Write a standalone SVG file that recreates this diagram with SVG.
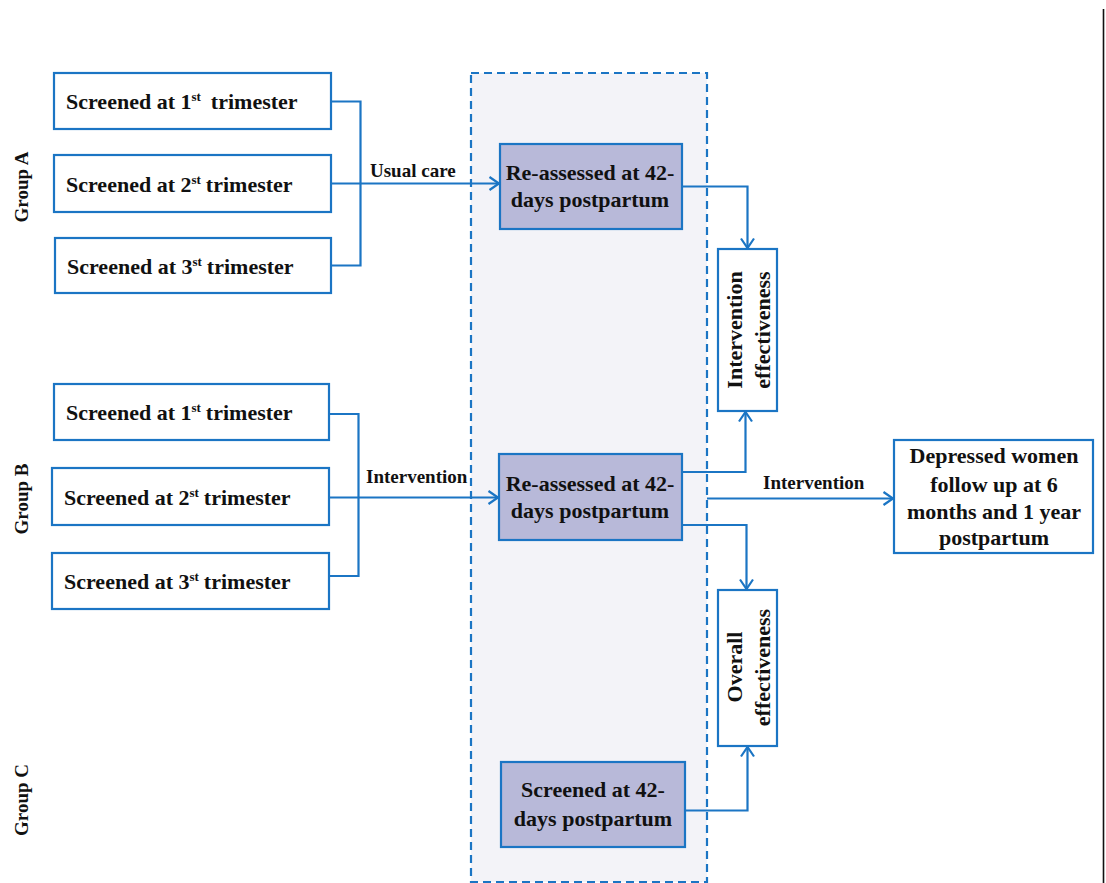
<svg xmlns="http://www.w3.org/2000/svg" width="1106" height="883" viewBox="0 0 1106 883">
<style>
.box{fill:#ffffff;stroke:#1b75c4;stroke-width:2.2}
.dbox{fill:#b8b9d9;stroke:#1b75c4;stroke-width:2.2}
.t{font-family:"Liberation Serif","Times New Roman",serif;font-weight:bold;font-size:22px;fill:#111}
.l{font-family:"Liberation Serif","Times New Roman",serif;font-weight:bold;font-size:19px;fill:#111}
.c{text-anchor:middle}
.sup{font-size:13px}
.con{fill:none;stroke:#1b75c4;stroke-width:2.2}
</style>
<defs>
<marker id="arr" markerWidth="14" markerHeight="16" refX="11" refY="7.5" orient="auto" markerUnits="userSpaceOnUse">
<path d="M1.5,1 L11,7.5 L1.5,14" fill="none" stroke="#1b75c4" stroke-width="2.2"/>
</marker>
</defs>
<rect width="1106" height="883" fill="#ffffff"/>
<line x1="1103.5" y1="9" x2="1103.5" y2="883" stroke="#111" stroke-width="1.6"/>

<g id="container">
<rect x="471" y="73" width="236" height="809" fill="#f3f3f8" stroke="#1b75c4" stroke-width="2.2" stroke-dasharray="8,5"/>
</g>

<g id="groupA-label"><text class="l c" transform="translate(28,187) rotate(-90)">Group A</text></g>
<g id="groupB-label"><text class="l c" transform="translate(28,499) rotate(-90)">Group B</text></g>
<g id="groupC-label"><text class="l c" transform="translate(28,800) rotate(-90)">Group C</text></g>

<g id="A1"><rect class="box" x="54" y="73" width="277" height="56"/>
<text class="t" x="66" y="109">Screened at 1<tspan class="sup" dy="-8">st</tspan><tspan dy="8" dx="10">trimester</tspan></text></g>
<g id="A2"><rect class="box" x="54" y="155" width="277" height="57"/>
<text class="t" x="66" y="192">Screened at 2<tspan class="sup" dy="-8">st</tspan><tspan dy="8" dx="5">trimester</tspan></text></g>
<g id="A3"><rect class="box" x="55" y="238" width="276" height="55"/>
<text class="t" x="67" y="273.5">Screened at 3<tspan class="sup" dy="-8">st</tspan><tspan dy="8" dx="5">trimester</tspan></text></g>

<g id="B1"><rect class="box" x="54" y="384" width="275" height="56"/>
<text class="t" x="66" y="420">Screened at 1<tspan class="sup" dy="-8">st</tspan><tspan dy="8" dx="5">trimester</tspan></text></g>
<g id="B2"><rect class="box" x="52" y="468" width="277" height="57"/>
<text class="t" x="64" y="505">Screened at 2<tspan class="sup" dy="-8">st</tspan><tspan dy="8" dx="5">trimester</tspan></text></g>
<g id="B3"><rect class="box" x="52" y="553" width="277" height="56"/>
<text class="t" x="64" y="588.5">Screened at 3<tspan class="sup" dy="-8">st</tspan><tspan dy="8" dx="5">trimester</tspan></text></g>

<g id="R1"><rect class="dbox" x="500" y="144" width="182" height="85"/>
<text class="t c" x="590" y="180">Re-assessed at 42-</text>
<text class="t c" x="590" y="207">days postpartum</text></g>
<g id="R2"><rect class="dbox" x="499" y="454" width="183" height="86"/>
<text class="t c" x="590" y="491">Re-assessed at 42-</text>
<text class="t c" x="590" y="518">days postpartum</text></g>
<g id="S42"><rect class="dbox" x="501" y="762" width="184" height="85"/>
<text class="t c" x="593" y="797">Screened at 42-</text>
<text class="t c" x="593" y="826">days postpartum</text></g>

<g id="IE"><rect class="box" x="718" y="249" width="59" height="162"/>
<text class="t c" transform="translate(742,330) rotate(-90)">Intervention</text>
<text class="t c" transform="translate(769.5,330) rotate(-90)">effectiveness</text></g>
<g id="OE"><rect class="box" x="718" y="590" width="59" height="156"/>
<text class="t c" transform="translate(742,667) rotate(-90)">Overall</text>
<text class="t c" transform="translate(769.5,667.5) rotate(-90)">effectiveness</text></g>

<g id="DW"><rect class="box" x="894" y="440" width="199" height="113"/>
<text class="t c" x="994" y="462.5">Depressed women</text>
<text class="t c" x="994" y="491.5">follow up at 6</text>
<text class="t c" x="994" y="518.5">months and 1 year</text>
<text class="t c" x="994" y="545">postpartum</text></g>

<g id="connectors">
<polyline class="con" points="331,101.5 360.5,101.5 360.5,265.5 331,265.5"/>
<line class="con" x1="331" y1="183.5" x2="499" y2="183.5" marker-end="url(#arr)"/>
<polyline class="con" points="329,414 358.5,414 358.5,576 329,576"/>
<line class="con" x1="329" y1="497.5" x2="498" y2="497.5" marker-end="url(#arr)"/>
<polyline class="con" points="682,186.5 747.5,186.5 747.5,248" marker-end="url(#arr)"/>
<polyline class="con" points="682,472 745.5,472 745.5,412" marker-end="url(#arr)"/>
<polyline class="con" points="682,525 746.5,525 746.5,589" marker-end="url(#arr)"/>
<line class="con" x1="707" y1="498.5" x2="893" y2="498.5" marker-end="url(#arr)"/>
<polyline class="con" points="685,810.5 747.5,810.5 747.5,747" marker-end="url(#arr)"/>
<text class="l" x="370" y="177">Usual care</text>
<text class="l" x="366" y="483">Intervention</text>
<text class="l" x="763" y="489">Intervention</text>
</g>
</svg>
